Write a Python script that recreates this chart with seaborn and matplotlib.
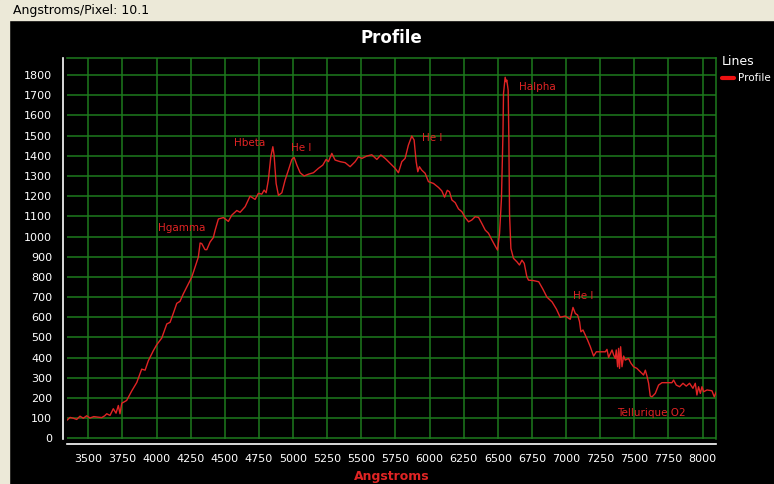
import numpy as np
import pandas as pd
import matplotlib
matplotlib.use('Agg')
import matplotlib.pyplot as plt
from matplotlib.patches import Rectangle
import seaborn as sns

# spectrum (wavelength in Angstroms, counts)
wavelength = [3346, 3366, 3390, 3415, 3439, 3463, 3488, 3512, 3540, 3562, 3598, 3620, 3635, 3659,
              3683, 3703, 3720, 3732, 3745, 3781, 3818, 3855, 3891, 3916, 3940, 3976, 4001, 4038,
              4075, 4099, 4123, 4148, 4172, 4196, 4233, 4258, 4282, 4306, 4319, 4331, 4355, 4368,
              4392, 4416, 4429, 4453, 4490, 4526, 4551, 4588, 4612, 4649, 4685, 4722, 4746, 4771,
              4788, 4803, 4819, 4837, 4852, 4861, 4876, 4893, 4918, 4942, 4966, 4991, 5008, 5028,
              5052, 5081, 5113, 5149, 5186, 5218, 5242, 5259, 5284, 5308, 5345, 5382, 5418, 5455,
              5479, 5504, 5541, 5577, 5614, 5643, 5675, 5711, 5748, 5772, 5797, 5821, 5845, 5870,
              5887, 5902, 5914, 5926, 5943, 5968, 5992, 6029, 6066, 6090, 6110, 6130, 6146, 6164,
              6188, 6212, 6237, 6261, 6286, 6310, 6334, 6359, 6383, 6408, 6432, 6457, 6481, 6498,
              6513, 6527, 6538, 6542, 6554, 6561, 6566, 6576, 6581, 6586, 6596, 6615, 6640, 6659,
              6677, 6694, 6713, 6725, 6760, 6800, 6830, 6860, 6898, 6930, 6957, 6994, 7031, 7051,
              7068, 7085, 7099, 7109, 7124, 7141, 7158, 7178, 7202, 7222, 7251, 7288, 7300, 7312,
              7337, 7349, 7361, 7368, 7378, 7385, 7392, 7400, 7410, 7422, 7434, 7458, 7476, 7495,
              7519, 7544, 7568, 7581, 7593, 7605, 7617, 7630, 7654, 7678, 7703, 7740, 7776, 7788,
              7808, 7832, 7857, 7881, 7905, 7930, 7947, 7959, 7971, 7984, 7996, 8008, 8033, 8069,
              8086, 8101]
intensity = [91, 104, 100, 94, 110, 100, 112, 101, 108, 106, 103, 112, 122, 114,
             147, 125, 163, 122, 174, 188, 235, 277, 343, 338, 385, 434, 464, 497,
             567, 575, 620, 669, 679, 716, 766, 799, 849, 898, 968, 965, 935, 935,
             973, 995, 1031, 1087, 1094, 1075, 1106, 1129, 1120, 1148, 1200, 1184, 1214, 1210,
             1230, 1217, 1280, 1395, 1445, 1404, 1263, 1204, 1217, 1280, 1329, 1382, 1392, 1354,
             1316, 1300, 1309, 1316, 1338, 1354, 1382, 1371, 1412, 1379, 1371, 1366, 1346, 1371,
             1395, 1387, 1399, 1405, 1382, 1404, 1387, 1363, 1338, 1316, 1371, 1387, 1453, 1498,
             1478, 1371, 1321, 1346, 1329, 1313, 1272, 1263, 1243, 1226, 1195, 1229, 1222, 1181,
             1168, 1137, 1123, 1094, 1073, 1082, 1098, 1095, 1065, 1032, 1016, 983, 953, 933,
             1016, 1189, 1511, 1709, 1789, 1767, 1775, 1726, 1494, 1115, 941, 892, 875, 859,
             883, 867, 801, 784, 782, 776, 740, 700, 676, 640, 600, 606, 590, 649,
             619, 611, 578, 528, 537, 512, 487, 454, 408, 429, 429, 429, 441, 401,
             438, 413, 396, 438, 355, 446, 347, 454, 355, 408, 388, 396, 372, 355,
             347, 330, 314, 338, 309, 273, 210, 206, 223, 264, 276, 276, 276, 289,
             264, 256, 273, 259, 273, 248, 273, 215, 256, 223, 256, 231, 240, 236,
             206, 231]

# line identifications drawn on the chart
line_names = ['Hgamma', 'Hbeta', 'He I', 'He I', 'Halpha', 'He I', 'Tellurique O2']
line_x = [4013, 4570, 4984, 5944, 6659, 7048, 7373]
line_y = [1044, 1462, 1438, 1488, 1741, 703, 128]

x_ticks = [3500, 3750, 4000, 4250, 4500, 4750, 5000, 5250, 5500, 5750, 6000, 6250,
           6500, 6750, 7000, 7250, 7500, 7750, 8000]
y_ticks = [0, 100, 200, 300, 400, 500, 600, 700, 800, 900, 1000, 1100, 1200, 1300,
           1400, 1500, 1600, 1700, 1800]

df = pd.DataFrame({'Angstroms': wavelength, 'Counts': intensity})

sns.set_style('dark')
plt.rcParams['font.family'] = ['DejaVu Sans']

red = '#e02424'
green = '#1d7a1d'

fig = plt.figure(figsize=(7.74, 4.84), dpi=100, facecolor='black')
ax = fig.add_axes([67.3 / 774, 45 / 484, (716.3 - 67.3) / 774, (439 - 58.3) / 484])
ax.set_facecolor('black')

# beige window chrome around the black panel
fig.patches.append(Rectangle((0, 1 - 20 / 484), 1, 20 / 484, transform=fig.transFigure,
                             color='#ece9d8', zorder=-1))
fig.patches.append(Rectangle((0, 0), 9 / 774, 1, transform=fig.transFigure,
                             color='#ece9d8', zorder=-1))
fig.text(13 / 774, 1 - 10.5 / 484, 'Angstroms/Pixel: 10.1', fontsize=9, color='black',
         va='center', ha='left')

sns.lineplot(data=df, x='Angstroms', y='Counts', ax=ax, color=red, linewidth=1,
             label='Profile', zorder=3)

ax.set_xlim(3346, 8101)
ax.set_ylim(-3, 1883)
ax.set_xticks(x_ticks)
ax.set_yticks(y_ticks)
ax.set_xticklabels([str(t) for t in x_ticks])
ax.set_yticklabels([str(t) for t in y_ticks])
ax.grid(True, color=green, linewidth=1.1)
ax.tick_params(axis='both', colors='white', labelcolor='white', labelsize=8, length=4.5,
               width=1, pad=3)

# white axis lines pushed out a little, green frame on the plot area
for s in ['left', 'bottom']:
    ax.spines[s].set_visible(True)
    ax.spines[s].set_color('white')
    ax.spines[s].set_linewidth(1.2)
    ax.spines[s].set_position(('outward', 3.4))
for s in ['top', 'right']:
    ax.spines[s].set_visible(True)
    ax.spines[s].set_color(green)
    ax.spines[s].set_linewidth(1.1)

for name, lx, ly in zip(line_names, line_x, line_y):
    ax.text(lx, ly, name, color=red, fontsize=7.5, ha='left', va='center', zorder=4)

ax.set_title('Profile', color='white', fontsize=12, fontweight='bold', pad=11)
ax.set_xlabel('Angstroms', color=red, fontsize=9, fontweight='bold', labelpad=4)
ax.set_ylabel('')

leg = ax.legend(title='Lines', loc='upper left', bbox_to_anchor=(720 / 774, 1 - 53 / 484),
                bbox_transform=fig.transFigure, frameon=False, fontsize=7.5,
                title_fontsize=9, handlelength=1.1, handletextpad=0.4, alignment='left',
                borderaxespad=0, borderpad=0.2)
leg.get_title().set_color('white')
for t in leg.get_texts():
    t.set_color('white')
for h in leg.get_lines():
    h.set_linewidth(3)
    h.set_color('#ee1111')

fig.savefig('out.png', dpi=100, facecolor=fig.get_facecolor())
